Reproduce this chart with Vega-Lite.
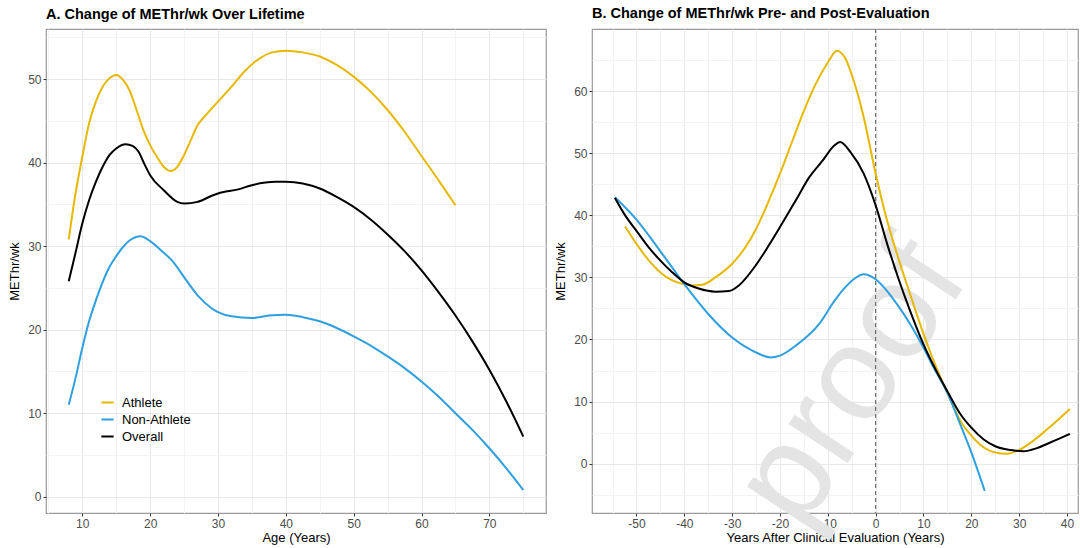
{
  "$schema": "https://vega.github.io/schema/vega-lite/v6.json",
  "background": "white",
  "padding": {"left": 8, "top": 5, "right": 0, "bottom": 0},
  "config": {
    "font": "Liberation Sans",
    "view": {"stroke": "#9a9a9a", "strokeWidth": 1.2},
    "axis": {
      "labelFont": "Liberation Sans",
      "labelFontSize": 12,
      "labelColor": "#4d4d4d",
      "tickSize": 3,
      "labelPadding": 2,
      "domain": false,
      "titleFont": "Liberation Sans",
      "titleFontSize": 13,
      "titleFontWeight": "normal",
      "titleColor": "#000000"
    },
    "title": {"font": "Liberation Sans", "fontSize": 14.5, "fontWeight": "bold", "anchor": "start", "frame": "group", "offset": 7, "color": "#000000"}
  },
  "datasets": {
    "life": [
      {"age": 8, "group": "Athlete", "value": 30.8},
      {"age": 9, "group": "Athlete", "value": 36.3},
      {"age": 10, "group": "Athlete", "value": 40.7},
      {"age": 11, "group": "Athlete", "value": 44.7},
      {"age": 12, "group": "Athlete", "value": 47.3},
      {"age": 13, "group": "Athlete", "value": 49.1},
      {"age": 14, "group": "Athlete", "value": 50.1},
      {"age": 15, "group": "Athlete", "value": 50.5},
      {"age": 16, "group": "Athlete", "value": 49.9},
      {"age": 17, "group": "Athlete", "value": 48.6},
      {"age": 18, "group": "Athlete", "value": 46.3},
      {"age": 19, "group": "Athlete", "value": 43.9},
      {"age": 20, "group": "Athlete", "value": 42.1},
      {"age": 21, "group": "Athlete", "value": 40.7},
      {"age": 22, "group": "Athlete", "value": 39.5},
      {"age": 23, "group": "Athlete", "value": 39.0},
      {"age": 24, "group": "Athlete", "value": 39.5},
      {"age": 25, "group": "Athlete", "value": 40.9},
      {"age": 26, "group": "Athlete", "value": 42.7},
      {"age": 27, "group": "Athlete", "value": 44.5},
      {"age": 28, "group": "Athlete", "value": 45.5},
      {"age": 30, "group": "Athlete", "value": 47.3},
      {"age": 32, "group": "Athlete", "value": 49.1},
      {"age": 34, "group": "Athlete", "value": 51.0},
      {"age": 36, "group": "Athlete", "value": 52.4},
      {"age": 38, "group": "Athlete", "value": 53.2},
      {"age": 40, "group": "Athlete", "value": 53.4},
      {"age": 42.5, "group": "Athlete", "value": 53.2},
      {"age": 45, "group": "Athlete", "value": 52.7},
      {"age": 47.5, "group": "Athlete", "value": 51.7},
      {"age": 50, "group": "Athlete", "value": 50.3},
      {"age": 52.5, "group": "Athlete", "value": 48.5},
      {"age": 55, "group": "Athlete", "value": 46.3},
      {"age": 57.5, "group": "Athlete", "value": 43.7},
      {"age": 60, "group": "Athlete", "value": 40.8},
      {"age": 62.5, "group": "Athlete", "value": 37.9},
      {"age": 65, "group": "Athlete", "value": 34.9},
      {"age": 8, "group": "Non-Athlete", "value": 11.0},
      {"age": 9, "group": "Non-Athlete", "value": 14.2},
      {"age": 10, "group": "Non-Athlete", "value": 17.8},
      {"age": 11, "group": "Non-Athlete", "value": 21.0},
      {"age": 12, "group": "Non-Athlete", "value": 23.5},
      {"age": 13, "group": "Non-Athlete", "value": 25.7},
      {"age": 14, "group": "Non-Athlete", "value": 27.5},
      {"age": 15, "group": "Non-Athlete", "value": 28.8},
      {"age": 16, "group": "Non-Athlete", "value": 29.9},
      {"age": 17, "group": "Non-Athlete", "value": 30.7},
      {"age": 18.6, "group": "Non-Athlete", "value": 31.2},
      {"age": 20, "group": "Non-Athlete", "value": 30.6},
      {"age": 22, "group": "Non-Athlete", "value": 29.2},
      {"age": 23.2, "group": "Non-Athlete", "value": 28.3},
      {"age": 25, "group": "Non-Athlete", "value": 26.3},
      {"age": 27, "group": "Non-Athlete", "value": 24.1},
      {"age": 29, "group": "Non-Athlete", "value": 22.6},
      {"age": 30, "group": "Non-Athlete", "value": 22.1},
      {"age": 32, "group": "Non-Athlete", "value": 21.6},
      {"age": 35, "group": "Non-Athlete", "value": 21.4},
      {"age": 37.5, "group": "Non-Athlete", "value": 21.7},
      {"age": 40, "group": "Non-Athlete", "value": 21.8},
      {"age": 42.5, "group": "Non-Athlete", "value": 21.5},
      {"age": 45, "group": "Non-Athlete", "value": 21.0},
      {"age": 47.5, "group": "Non-Athlete", "value": 20.2},
      {"age": 50, "group": "Non-Athlete", "value": 19.2},
      {"age": 52.5, "group": "Non-Athlete", "value": 18.1},
      {"age": 55, "group": "Non-Athlete", "value": 16.8},
      {"age": 57.5, "group": "Non-Athlete", "value": 15.4},
      {"age": 60, "group": "Non-Athlete", "value": 13.8},
      {"age": 62.5, "group": "Non-Athlete", "value": 12.0},
      {"age": 65, "group": "Non-Athlete", "value": 10.0},
      {"age": 67.5, "group": "Non-Athlete", "value": 8.0},
      {"age": 70, "group": "Non-Athlete", "value": 5.8},
      {"age": 72.5, "group": "Non-Athlete", "value": 3.4},
      {"age": 75, "group": "Non-Athlete", "value": 0.8},
      {"age": 8, "group": "Overall", "value": 25.8},
      {"age": 9, "group": "Overall", "value": 29.2},
      {"age": 10, "group": "Overall", "value": 32.7},
      {"age": 11, "group": "Overall", "value": 35.5},
      {"age": 12, "group": "Overall", "value": 37.7},
      {"age": 13, "group": "Overall", "value": 39.5},
      {"age": 14, "group": "Overall", "value": 40.9},
      {"age": 15, "group": "Overall", "value": 41.7},
      {"age": 16.4, "group": "Overall", "value": 42.2},
      {"age": 17.4, "group": "Overall", "value": 42.0},
      {"age": 18.3, "group": "Overall", "value": 41.3},
      {"age": 19, "group": "Overall", "value": 40.1},
      {"age": 20, "group": "Overall", "value": 38.5},
      {"age": 22, "group": "Overall", "value": 36.7},
      {"age": 24, "group": "Overall", "value": 35.3},
      {"age": 25, "group": "Overall", "value": 35.1},
      {"age": 27, "group": "Overall", "value": 35.3},
      {"age": 29, "group": "Overall", "value": 36.0},
      {"age": 30, "group": "Overall", "value": 36.3},
      {"age": 33, "group": "Overall", "value": 36.8},
      {"age": 35, "group": "Overall", "value": 37.3},
      {"age": 38.5, "group": "Overall", "value": 37.7},
      {"age": 40, "group": "Overall", "value": 37.7},
      {"age": 42.5, "group": "Overall", "value": 37.5},
      {"age": 45, "group": "Overall", "value": 36.9},
      {"age": 47.5, "group": "Overall", "value": 35.9},
      {"age": 50, "group": "Overall", "value": 34.7},
      {"age": 52.5, "group": "Overall", "value": 33.2},
      {"age": 55, "group": "Overall", "value": 31.4},
      {"age": 57.5, "group": "Overall", "value": 29.4},
      {"age": 60, "group": "Overall", "value": 27.1},
      {"age": 62.5, "group": "Overall", "value": 24.5},
      {"age": 65, "group": "Overall", "value": 21.7},
      {"age": 67.5, "group": "Overall", "value": 18.6},
      {"age": 70, "group": "Overall", "value": 15.2},
      {"age": 72.5, "group": "Overall", "value": 11.4},
      {"age": 75, "group": "Overall", "value": 7.2}
    ],
    "eval": [
      {"years": -52.4, "group": "Athlete", "value": 38.2},
      {"years": -50, "group": "Athlete", "value": 35.4},
      {"years": -47.4, "group": "Athlete", "value": 32.7},
      {"years": -45, "group": "Athlete", "value": 30.8},
      {"years": -42.5, "group": "Athlete", "value": 29.5},
      {"years": -40, "group": "Athlete", "value": 28.9},
      {"years": -38.3, "group": "Athlete", "value": 28.7},
      {"years": -36.3, "group": "Athlete", "value": 28.8},
      {"years": -33.5, "group": "Athlete", "value": 30.0},
      {"years": -30, "group": "Athlete", "value": 32.2},
      {"years": -27.2, "group": "Athlete", "value": 34.9},
      {"years": -25, "group": "Athlete", "value": 37.8},
      {"years": -22.3, "group": "Athlete", "value": 42.4},
      {"years": -20, "group": "Athlete", "value": 46.7},
      {"years": -17.4, "group": "Athlete", "value": 52.0},
      {"years": -15, "group": "Athlete", "value": 56.8},
      {"years": -12.5, "group": "Athlete", "value": 61.2},
      {"years": -10, "group": "Athlete", "value": 64.6},
      {"years": -8.1, "group": "Athlete", "value": 66.5},
      {"years": -6.3, "group": "Athlete", "value": 65.2},
      {"years": -4.6, "group": "Athlete", "value": 61.7},
      {"years": -2.5, "group": "Athlete", "value": 55.8},
      {"years": 0, "group": "Athlete", "value": 46.7},
      {"years": 2.4, "group": "Athlete", "value": 39.1},
      {"years": 4.9, "group": "Athlete", "value": 32.7},
      {"years": 7.2, "group": "Athlete", "value": 27.3},
      {"years": 10, "group": "Athlete", "value": 20.9},
      {"years": 12.1, "group": "Athlete", "value": 16.6},
      {"years": 15.1, "group": "Athlete", "value": 11.2},
      {"years": 17.7, "group": "Athlete", "value": 6.9},
      {"years": 20, "group": "Athlete", "value": 4.5},
      {"years": 22.6, "group": "Athlete", "value": 2.6},
      {"years": 25, "group": "Athlete", "value": 1.8},
      {"years": 27.5, "group": "Athlete", "value": 1.6},
      {"years": 30, "group": "Athlete", "value": 2.2},
      {"years": 33, "group": "Athlete", "value": 3.7},
      {"years": 35.8, "group": "Athlete", "value": 5.5},
      {"years": 37.9, "group": "Athlete", "value": 6.9},
      {"years": 40.6, "group": "Athlete", "value": 8.8},
      {"years": -54.5, "group": "Non-Athlete", "value": 42.9},
      {"years": -50, "group": "Non-Athlete", "value": 39.3},
      {"years": -45, "group": "Non-Athlete", "value": 34.2},
      {"years": -40, "group": "Non-Athlete", "value": 28.9},
      {"years": -35, "group": "Non-Athlete", "value": 24.1},
      {"years": -30, "group": "Non-Athlete", "value": 20.3},
      {"years": -25, "group": "Non-Athlete", "value": 17.9},
      {"years": -22, "group": "Non-Athlete", "value": 17.1},
      {"years": -20, "group": "Non-Athlete", "value": 17.4},
      {"years": -16.7, "group": "Non-Athlete", "value": 19.0},
      {"years": -11.8, "group": "Non-Athlete", "value": 22.5},
      {"years": -8.8, "group": "Non-Athlete", "value": 26.0},
      {"years": -6.7, "group": "Non-Athlete", "value": 28.1},
      {"years": -4.6, "group": "Non-Athlete", "value": 29.7},
      {"years": -2.5, "group": "Non-Athlete", "value": 30.5},
      {"years": 0, "group": "Non-Athlete", "value": 29.7},
      {"years": 2.4, "group": "Non-Athlete", "value": 27.8},
      {"years": 4.9, "group": "Non-Athlete", "value": 25.2},
      {"years": 7.2, "group": "Non-Athlete", "value": 22.5},
      {"years": 10, "group": "Non-Athlete", "value": 18.7},
      {"years": 12.1, "group": "Non-Athlete", "value": 15.5},
      {"years": 15.1, "group": "Non-Athlete", "value": 11.2},
      {"years": 17.7, "group": "Non-Athlete", "value": 6.3},
      {"years": 20, "group": "Non-Athlete", "value": 1.8},
      {"years": 22.8, "group": "Non-Athlete", "value": -4.4},
      {"years": -54.5, "group": "Overall", "value": 42.8},
      {"years": -52.3, "group": "Overall", "value": 39.9},
      {"years": -50, "group": "Overall", "value": 37.5},
      {"years": -47.4, "group": "Overall", "value": 34.8},
      {"years": -45, "group": "Overall", "value": 32.7},
      {"years": -42.5, "group": "Overall", "value": 30.8},
      {"years": -40, "group": "Overall", "value": 29.2},
      {"years": -37, "group": "Overall", "value": 28.2},
      {"years": -33.5, "group": "Overall", "value": 27.7},
      {"years": -30.7, "group": "Overall", "value": 27.8},
      {"years": -28.6, "group": "Overall", "value": 28.7},
      {"years": -25, "group": "Overall", "value": 32.0},
      {"years": -22.3, "group": "Overall", "value": 35.2},
      {"years": -20, "group": "Overall", "value": 38.1},
      {"years": -16.7, "group": "Overall", "value": 42.4},
      {"years": -13.9, "group": "Overall", "value": 46.1},
      {"years": -11.1, "group": "Overall", "value": 48.8},
      {"years": -8.7, "group": "Overall", "value": 51.2},
      {"years": -7.4, "group": "Overall", "value": 51.8},
      {"years": -5.3, "group": "Overall", "value": 50.2},
      {"years": -2.5, "group": "Overall", "value": 46.7},
      {"years": 0, "group": "Overall", "value": 41.6},
      {"years": 2.4, "group": "Overall", "value": 35.4},
      {"years": 4.9, "group": "Overall", "value": 29.5},
      {"years": 7.2, "group": "Overall", "value": 24.6},
      {"years": 10, "group": "Overall", "value": 19.2},
      {"years": 12.1, "group": "Overall", "value": 15.8},
      {"years": 15.1, "group": "Overall", "value": 11.5},
      {"years": 17.7, "group": "Overall", "value": 8.0},
      {"years": 20, "group": "Overall", "value": 5.8},
      {"years": 22.6, "group": "Overall", "value": 3.9},
      {"years": 25, "group": "Overall", "value": 2.8},
      {"years": 28.2, "group": "Overall", "value": 2.2},
      {"years": 30.9, "group": "Overall", "value": 2.0},
      {"years": 33.7, "group": "Overall", "value": 2.5},
      {"years": 36.5, "group": "Overall", "value": 3.4},
      {"years": 40.6, "group": "Overall", "value": 4.8}
    ],
    "marker": [{"years": 0}],
    "watermark": [{"years": -4.9, "value": 12.9, "label": "proof"}]
  },
  "spacing": 7,
  "resolve": {"legend": {"color": "independent"}},
  "hconcat": [
    {
      "width": 500,
      "height": 484,
      "title": {"text": "A. Change of METhr/wk Over Lifetime"},
      "data": {"name": "life"},
      "mark": {"type": "line", "strokeWidth": 2, "interpolate": "monotone"},
      "encoding": {
        "x": {
          "field": "age", "type": "quantitative",
          "scale": {"domain": [4.65, 78.35], "nice": false, "zero": false},
          "axis": {
            "title": "Age (Years)",
            "values": [5, 10, 15, 20, 25, 30, 35, 40, 45, 50, 55, 60, 65, 70, 75],
            "labelExpr": "datum.value % 10 === 0 ? '' + datum.value : ''",
            "tickColor": {"condition": {"test": "datum.value % 10 !== 0", "value": "transparent"}, "value": "#333333"},
            "gridColor": {"condition": {"test": "datum.value % 10 !== 0", "value": "#f3f3f3"}, "value": "#e8e8e8"},
            "titlePadding": 2
          }
        },
        "y": {
          "field": "value", "type": "quantitative",
          "scale": {"domain": [-1.95, 56.0], "nice": false, "zero": false},
          "axis": {
            "title": "METhr/wk",
            "values": [0, 5, 10, 15, 20, 25, 30, 35, 40, 45, 50, 55],
            "labelExpr": "datum.value % 10 === 0 ? '' + datum.value : ''",
            "tickColor": {"condition": {"test": "datum.value % 10 !== 0", "value": "transparent"}, "value": "#333333"},
            "gridColor": {"condition": {"test": "datum.value % 10 !== 0", "value": "#f3f3f3"}, "value": "#e8e8e8"},
            "titlePadding": 6
          }
        },
        "color": {
          "field": "group", "type": "nominal",
          "scale": {"domain": ["Athlete", "Non-Athlete", "Overall"], "range": ["#E7B800", "#2E9FDF", "#000000"]},
          "legend": {
            "title": null,
            "orient": "none",
            "legendX": 54,
            "legendY": 366,
            "symbolType": "stroke",
            "symbolStrokeWidth": 2,
            "symbolSize": 150,
            "labelFontSize": 13,
            "labelColor": "#000000",
            "labelFont": "Liberation Sans",
            "rowPadding": 2,
            "labelOffset": 7
          }
        }
      }
    },
    {
      "width": 486,
      "height": 484,
      "title": {"text": "B. Change of METhr/wk Pre- and Post-Evaluation"},
      "encoding": {
        "x": {
          "field": "years", "type": "quantitative",
          "scale": {"domain": [-59.3, 42.3], "nice": false, "zero": false},
          "axis": {
            "title": "Years After Clinical Evaluation (Years)",
            "values": [-55, -50, -45, -40, -35, -30, -25, -20, -15, -10, -5, 0, 5, 10, 15, 20, 25, 30, 35, 40],
            "labelExpr": "datum.value % 10 === 0 ? '' + datum.value : ''",
            "tickColor": {"condition": {"test": "datum.value % 10 !== 0", "value": "transparent"}, "value": "#333333"},
            "gridColor": {"condition": {"test": "datum.value % 10 !== 0", "value": "#f3f3f3"}, "value": "#e8e8e8"},
            "titlePadding": 2
          }
        }
      },
      "layer": [
        {
          "data": {"name": "watermark"},
          "mark": {"type": "text", "fontSize": 134, "font": "Liberation Sans", "color": "#e4e4e4", "angle": 303.5, "align": "center", "baseline": "middle"},
          "encoding": {
            "y": {
              "field": "value", "type": "quantitative",
              "scale": {"domain": [-7.95, 70.0], "nice": false, "zero": false},
              "axis": {
                "title": "METhr/wk",
                "values": [-5, 0, 5, 10, 15, 20, 25, 30, 35, 40, 45, 50, 55, 60, 65],
                "labelExpr": "datum.value % 10 === 0 ? '' + datum.value : ''",
                "tickColor": {"condition": {"test": "datum.value % 10 !== 0", "value": "transparent"}, "value": "#333333"},
                "gridColor": {"condition": {"test": "datum.value % 10 !== 0", "value": "#f3f3f3"}, "value": "#e8e8e8"},
                "titlePadding": 6
              }
            },
            "text": {"field": "label"}
          }
        },
        {
          "data": {"name": "marker"},
          "mark": {"type": "rule", "strokeDash": [4, 3], "color": "#555555", "strokeWidth": 1},
          "encoding": {}
        },
        {
          "data": {"name": "eval"},
          "mark": {"type": "line", "strokeWidth": 2, "interpolate": "monotone"},
          "encoding": {
            "y": {
              "field": "value", "type": "quantitative",
              "scale": {"domain": [-7.95, 70.0], "nice": false, "zero": false},
              "axis": {
                "title": "METhr/wk",
                "values": [-5, 0, 5, 10, 15, 20, 25, 30, 35, 40, 45, 50, 55, 60, 65],
                "labelExpr": "datum.value % 10 === 0 ? '' + datum.value : ''",
                "tickColor": {"condition": {"test": "datum.value % 10 !== 0", "value": "transparent"}, "value": "#333333"},
                "gridColor": {"condition": {"test": "datum.value % 10 !== 0", "value": "#f3f3f3"}, "value": "#e8e8e8"},
                "titlePadding": 6
              }
            },
            "color": {
              "field": "group", "type": "nominal",
              "scale": {"domain": ["Athlete", "Non-Athlete", "Overall"], "range": ["#E7B800", "#2E9FDF", "#000000"]},
              "legend": null
            }
          }
        }
      ]
    }
  ]
}
